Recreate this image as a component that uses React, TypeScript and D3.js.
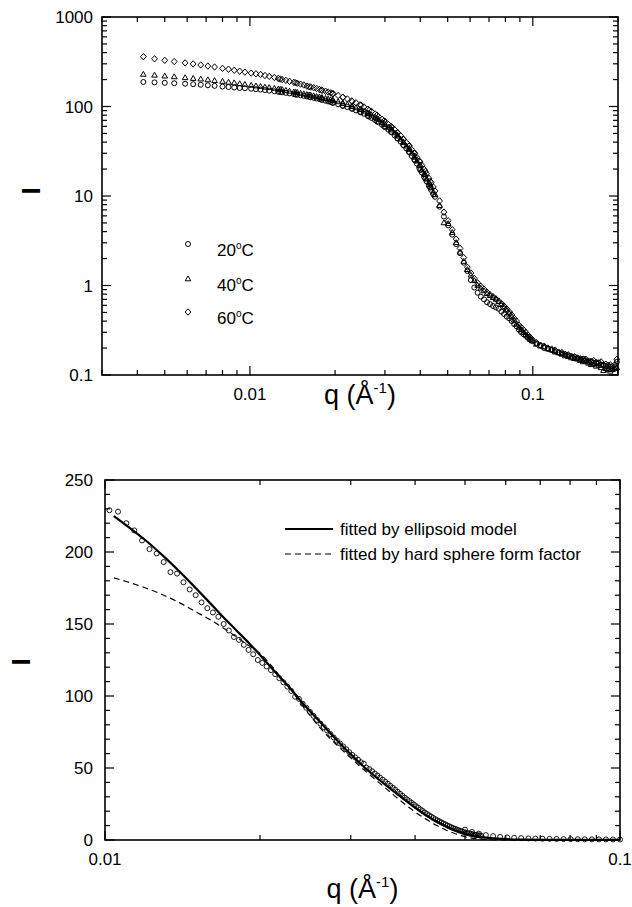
import React from "react";
import * as d3 from "d3";

const W = 632;
const H = 907;
const FONT = "'Liberation Sans', Arial, Helvetica, sans-serif";

// ---------- upper panel: scattering curves at three temperatures ----------
// low-q detector setting
const qLow = [
  0.0042, 0.0046, 0.005, 0.0054, 0.0059, 0.0063, 0.0067, 0.0071, 0.0075, 0.008,
  0.0084, 0.0088, 0.0092, 0.0096, 0.0101, 0.0105, 0.0109, 0.0113, 0.0117, 0.0122,
  0.0126, 0.013, 0.0134, 0.0138, 0.0143, 0.0147, 0.0151, 0.0155, 0.0159, 0.0164,
  0.0168, 0.0172, 0.0176, 0.018, 0.0185, 0.0189, 0.0193, 0.0197,
  0.0205, 0.0213, 0.0221, 0.0229, 0.0237, 0.0245, 0.0253, 0.0261, 0.0269, 0.0277,
  0.0285, 0.0293, 0.0301, 0.0309, 0.0317, 0.0325, 0.0333, 0.0341, 0.0349, 0.0357,
  0.0365, 0.0373, 0.0381, 0.0389, 0.0397, 0.0405, 0.0413, 0.0421, 0.0429, 0.0437,
  0.0445,
];
const I20Low = [
  188, 186, 184, 182, 179.5, 177.5, 175, 172.5, 170, 167,
  165, 163, 161, 160, 158, 156, 154.5, 152.5, 150.5, 148,
  146, 144, 142, 140, 137.5, 135.5, 133.5, 131.5, 129.5, 127,
  125, 123, 121, 119, 116, 114, 112, 110,
  106, 102, 98.5, 95, 90.5, 87, 83, 78.5, 74.5, 70.5,
  66.5, 62.5, 58.5, 55, 51.5, 47.5, 44, 40.5, 37, 34,
  31, 28, 25.5, 23, 20.5, 18.3, 16.3, 14.6, 13, 11.7,
  10.4,
];
const I40Low = [
  228, 223, 218, 214, 209, 205, 202, 198, 194, 190,
  186, 183, 179, 176, 172, 169, 167, 164, 162, 159,
  156, 154, 151, 148, 145, 143, 140, 138, 135.5, 133,
  131, 129, 127, 125, 122.5, 120.5, 118.5, 116.5,
  112.5, 108.5, 104.5, 100.5, 96.5, 92.5, 88.5, 84.5, 80, 75.5,
  71, 66.5, 62.5, 58.5, 54.5, 50.5, 46.5, 43, 39.5, 36,
  33, 30, 27, 24.5, 22, 19.5, 17.5, 15.5, 14, 12.5,
  11,
];
const I60Low = [
  360, 341, 328, 318, 307, 299, 291, 283, 276, 267,
  261, 254, 248, 242, 236, 232, 228, 222, 217, 211,
  206, 200, 196, 191, 186, 182, 178, 174, 169, 165,
  162, 159, 155, 152, 148, 145, 142, 139,
  132.5, 127, 121.5, 115.5, 110, 104.5, 99, 93.5, 88, 82.5,
  77, 72, 67.5, 63, 59, 55, 51, 47, 43, 39.5,
  36, 33, 30, 27, 24.5, 22, 19.8, 17.7, 15.8, 14.1,
  12.6,
];

// high-q detector setting
const qHigh = [
  0.0128, 0.0145, 0.0162, 0.0179, 0.0196, 0.0213, 0.023, 0.0247, 0.0264, 0.0281,
  0.0298, 0.0315, 0.0332, 0.0349, 0.0366, 0.0383, 0.04, 0.0417, 0.0434, 0.0451,
  0.0468, 0.0485, 0.0502, 0.0519, 0.0536, 0.0553, 0.057, 0.0587, 0.0604, 0.0621,
  0.0638, 0.0655, 0.0672, 0.0689, 0.0706, 0.0723, 0.074, 0.0757, 0.0774, 0.0791,
  0.0808, 0.0825, 0.0842, 0.0859, 0.0876, 0.0893, 0.091, 0.0927, 0.0944, 0.0961,
  0.0978, 0.0995,
  0.1029, 0.1063, 0.1097, 0.1131, 0.1165, 0.1199, 0.1233, 0.1267, 0.1301, 0.1335,
  0.1369, 0.1403, 0.1437, 0.1471, 0.1505, 0.1539, 0.1573, 0.1607, 0.1641, 0.1675,
  0.1709, 0.1743, 0.1777, 0.1811, 0.1845, 0.1879, 0.1913, 0.1947, 0.1981,
];
const I20High = [
  145, 136, 128, 119, 110, 102, 94, 86, 77, 68,
  60, 52, 44, 37, 31, 25, 19.5, 15.6, 12.4, 9.8,
  7.6, 5.9, 4.7, 3.7, 2.9, 2.3, 1.8, 1.45, 1.15, 0.95,
  0.83, 0.75, 0.7, 0.65, 0.62, 0.59, 0.57, 0.55, 0.51, 0.48,
  0.45, 0.43, 0.4, 0.37, 0.35, 0.32, 0.3, 0.285, 0.275, 0.26,
  0.25, 0.24,
  0.225, 0.215, 0.2, 0.196, 0.19, 0.185, 0.178, 0.174, 0.17, 0.165,
  0.16, 0.16, 0.155, 0.15, 0.152, 0.145, 0.14, 0.143, 0.137, 0.135,
  0.138, 0.13, 0.128, 0.126, 0.12, 0.124, 0.118, 0.122, 0.14,
];
const I40High = [
  155, 144, 134, 125, 117, 108, 100, 92, 83, 73,
  65, 57, 48, 40, 34, 28, 22, 17.2, 13.4, 10.3,
  7.8, 5.0, 4.9, 3.9, 3.0, 2.35, 1.85, 1.5, 1.3, 1.13,
  1.0, 0.93, 0.87, 0.81, 0.77, 0.73, 0.7, 0.66, 0.61, 0.57,
  0.53, 0.49, 0.45, 0.41, 0.37, 0.34, 0.32, 0.3, 0.28, 0.265,
  0.25, 0.24,
  0.22, 0.21, 0.205, 0.195, 0.19, 0.18, 0.176, 0.17, 0.163, 0.16,
  0.155, 0.152, 0.15, 0.145, 0.14, 0.142, 0.135, 0.13, 0.133, 0.125,
  0.128, 0.12, 0.112, 0.118, 0.115, 0.11, 0.115, 0.118, 0.12,
];
const I60High = [
  203, 184, 166, 153, 139, 127, 114, 103, 91, 80,
  69, 60, 51, 43, 36.5, 30, 24, 18.8, 14.6, 11.4,
  8.8, 6.6, 5.3, 4.2, 3.3, 2.6, 2.05, 1.6, 1.38, 1.2,
  1.07, 0.98, 0.91, 0.84, 0.79, 0.75, 0.71, 0.67, 0.63, 0.59,
  0.55, 0.51, 0.47, 0.43, 0.4, 0.36, 0.34, 0.32, 0.3, 0.28,
  0.265, 0.25,
  0.23, 0.215, 0.21, 0.2, 0.195, 0.19, 0.18, 0.178, 0.17, 0.168,
  0.162, 0.16, 0.155, 0.152, 0.148, 0.15, 0.143, 0.14, 0.145, 0.138,
  0.135, 0.14, 0.13, 0.132, 0.128, 0.13, 0.125, 0.13, 0.15,
];

const temperatures = ["20", "40", "60"];
const topYTicks = [0.1, 1, 10, 100, 1000];
const topYTickLabels = ["0.1", "1", "10", "100", "1000"];
const topXTicks = [0.01, 0.1];
const topXTickLabels = ["0.01", "0.1"];

// ---------- lower panel: one curve with two model fits ----------
const qB = [
  0.0102, 0.0106, 0.011, 0.0114, 0.0118, 0.0122, 0.0126, 0.013, 0.0134, 0.0138,
  0.0142, 0.0146, 0.015, 0.0154, 0.0158, 0.0162, 0.0166, 0.017, 0.0174, 0.0178,
  0.0182, 0.0186, 0.019, 0.0194, 0.0198,
  0.0202, 0.0206, 0.021, 0.0214, 0.0218, 0.0222, 0.0226, 0.023, 0.0234, 0.0238,
  0.0242, 0.0246, 0.025, 0.0254, 0.0258, 0.0262, 0.0266, 0.027, 0.0274, 0.0278,
  0.0282, 0.0286, 0.029, 0.0294, 0.0298, 0.0302, 0.0306, 0.031, 0.0314, 0.0318,
  0.0322, 0.0326, 0.033, 0.0334, 0.0338, 0.0342, 0.0346, 0.035, 0.0354, 0.0358,
  0.0362, 0.0366, 0.037, 0.0374, 0.0378, 0.0382, 0.0386, 0.039, 0.0394, 0.0398,
  0.0402, 0.0406, 0.041, 0.0414, 0.0418, 0.0422, 0.0426, 0.043, 0.0434, 0.0438,
  0.0442, 0.0446, 0.045, 0.0454, 0.0458, 0.0462, 0.0466, 0.047, 0.0474, 0.0478,
  0.0482, 0.0486, 0.049, 0.0494, 0.0498, 0.0502, 0.0506, 0.051, 0.0514, 0.0518,
  0.0522, 0.0526, 0.053, 0.0534, 0.0538,
];
const IB = [
  229, 228, 220, 215, 208, 202, 199, 193, 186, 185,
  179, 174, 170, 165, 161, 158, 155, 150, 145.5, 141,
  139, 135.5, 132, 129, 125,
  123, 120.5, 118, 115.2, 112.4, 109.5, 106.5, 103.5, 99.5, 98,
  94.6, 91.8, 89, 86.2, 83.4, 80.8, 78.4, 76, 73.6, 71.2,
  69, 67, 65, 63, 61, 59.1, 57.4, 55.7, 54, 53,
  50.2, 49.2, 47.8, 46.2, 44.8, 43.3, 41.9, 40.5, 39.1, 37.7,
  36.3, 34.9, 33.5, 32.1, 30.7, 29.4, 28.2, 27, 25.8, 24.6,
  23.4, 22.3, 21.2, 20.1, 19, 18, 17.1, 16.2, 15.3, 14.4,
  13.6, 12.9, 12.2, 11.5, 10.8, 10.1, 9.5, 8.9, 8.3, 7.8,
  7.3, 6.8, 6.3, 5.9, 5.4, 5.1, 4.8, 4.5, 4.2, 4,
  3.7, 3.5, 3.3, 3.1, 2.9,
];
const qBHigh = [
  0.05, 0.0516, 0.0532, 0.0549, 0.0567, 0.0585, 0.0604, 0.0623, 0.0643, 0.0664,
  0.0685, 0.0707, 0.073, 0.0753, 0.0777, 0.0802, 0.0828, 0.0854, 0.0882, 0.091,
  0.0939, 0.0969, 0.1,
];
const IBHigh = [
  7.2, 5.6, 4.4, 3.4, 2.7, 2.2, 1.8, 1.5, 1.3, 1.1,
  1.0, 0.9, 0.8, 0.72, 0.65, 0.6, 0.55, 0.5, 0.46, 0.43,
  0.4, 0.38, 0.36,
];
const qFit = [
  0.0104, 0.011, 0.012, 0.013, 0.014, 0.015, 0.016, 0.017, 0.018, 0.019,
  0.02, 0.021, 0.022, 0.023, 0.024, 0.025, 0.026, 0.028, 0.03, 0.032,
  0.034, 0.036, 0.038, 0.04, 0.042, 0.044, 0.046, 0.048, 0.05, 0.053,
  0.056, 0.06, 0.065, 0.07, 0.08, 0.09, 0.1,
];
const ellipsoidFit = [
  225, 218.5, 208, 197, 186, 175, 164.5, 154.5, 145.5, 137,
  128.5, 120, 112, 104.5, 96.5, 89.5, 83, 70.5, 59.5, 50,
  42, 35, 28.5, 22.5, 17.3, 13, 9.4, 6.6, 4.5, 2.4,
  1.3, 0.6, 0.25, 0.15, 0.1, 0.1, 0.1,
];
const hardSphereFit = [
  182, 179.5, 175, 170, 164.5, 158.5, 153, 147, 141, 135,
  129.5, 121.5, 112.5, 104, 95, 86.5, 79, 67, 57, 48,
  40, 32.5, 25.5, 19.5, 14.5, 10.2, 6.8, 4.2, 2.3, 0.8,
  0.2, 0.1, 0.1, 0.1, 0.1, 0.1, 0.1,
];
const fitLabels = ["fitted by ellipsoid model", "fitted by hard sphere form factor"];
const botYTicks = [0, 50, 100, 150, 200, 250];
const botYTickLabels = ["0", "50", "100", "150", "200", "250"];
const botXTicks = [0.01, 0.1];
const botXTickLabels = ["0.01", "0.1"];

// ---------- geometry ----------
const topX = d3.scaleLog().domain([0.003, 0.2]).range([102, 618]);
const topY = d3.scaleLog().domain([0.1, 1000]).range([375, 17]);
const botX = d3.scaleLog().domain([0.01, 0.1]).range([105, 620]);
const botY = d3.scaleLinear().domain([0, 250]).range([840, 480]);

type Shape = "circle" | "triangle" | "diamond";

function markerPath(shape: Shape, x: number, y: number, r = 2.5): string {
  if (shape === "circle") {
    return `M${x - r},${y}a${r},${r} 0 1,0 ${2 * r},0a${r},${r} 0 1,0 ${-2 * r},0`;
  }
  if (shape === "triangle") {
    return `M${x},${y - 3.1}L${x + 2.8},${y + 1.8}L${x - 2.8},${y + 1.8}Z`;
  }
  return `M${x},${y - 3.2}L${x + 2.9},${y}L${x},${y + 3.2}L${x - 2.9},${y}Z`;
}

function seriesPath(
  shape: Shape,
  qs: number[],
  vals: number[],
  sx: (v: number) => number,
  sy: (v: number) => number,
  r?: number
): string {
  return qs.map((q, i) => markerPath(shape, sx(q), sy(vals[i]), r)).join("");
}

const isDecade = (v: number) =>
  Math.abs(Math.log10(v) - Math.round(Math.log10(v))) < 1e-6;

type Tick = { pos: number; major: boolean };

function Frame({
  x0, x1, y0, y1, xTicks, yTicks,
}: { x0: number; x1: number; y0: number; y1: number; xTicks: Tick[]; yTicks: Tick[] }) {
  const MAJ = 9;
  const MIN = 5;
  const lines: JSX.Element[] = [];
  xTicks.forEach((t, i) => {
    const len = t.major ? MAJ : MIN;
    lines.push(<line key={`xb${i}`} x1={t.pos} x2={t.pos} y1={y1} y2={y1 - len} />);
    lines.push(<line key={`xt${i}`} x1={t.pos} x2={t.pos} y1={y0} y2={y0 + len} />);
  });
  yTicks.forEach((t, i) => {
    const len = t.major ? MAJ : MIN;
    lines.push(<line key={`yl${i}`} x1={x0} x2={x0 + len} y1={t.pos} y2={t.pos} />);
    lines.push(<line key={`yr${i}`} x1={x1} x2={x1 - len} y1={t.pos} y2={t.pos} />);
  });
  return (
    <g stroke="#000" fill="none">
      <g strokeWidth={1.2}>{lines}</g>
      <rect x={x0} y={y0} width={x1 - x0} height={y1 - y0} strokeWidth={1.6} />
    </g>
  );
}

function QLabel({ x, y }: { x: number; y: number }) {
  return (
    <text x={x} y={y} textAnchor="middle" fontSize={27} fontFamily={FONT}>
      q (Å
      <tspan dy={-11} fontSize={15}>-1</tspan>
      <tspan dy={11}>)</tspan>
    </text>
  );
}

export default function App() {
  const [tx0, tx1] = topX.range();
  const [ty1, ty0] = topY.range();
  const topXT: Tick[] = topX.ticks().map((t) => ({ pos: topX(t), major: isDecade(t) }));
  const topYT: Tick[] = topY.ticks().map((t) => ({ pos: topY(t), major: isDecade(t) }));

  const [bx0, bx1] = botX.range();
  const [by1, by0] = botY.range();
  const botXT: Tick[] = botX.ticks().map((t) => ({ pos: botX(t), major: isDecade(t) }));
  const botYT: Tick[] = botY.ticks(25).map((t) => ({ pos: botY(t), major: t % 50 === 0 }));

  const series: { shape: Shape; low: number[]; high: number[] }[] = [
    { shape: "circle", low: I20Low, high: I20High },
    { shape: "triangle", low: I40Low, high: I40High },
    { shape: "diamond", low: I60Low, high: I60High },
  ];

  const fitLine = d3
    .line<number>()
    .x((_, i) => botX(qFit[i]))
    .curve(d3.curveMonotoneX);

  const legendRows = [244, 279, 312];

  return (
    <svg
      width={W}
      height={H}
      viewBox={`0 0 ${W} ${H}`}
      style={{ position: "absolute", left: 0, top: 0, background: "#fff" }}
      fontFamily={FONT}
    >
      <rect width={W} height={H} fill="#fff" />

      {/* ===== upper panel ===== */}
      <g>
        {series.map((s) => (
          <g key={s.shape} fill="none" stroke="#000" strokeWidth={1}>
            <path d={seriesPath(s.shape, qLow, s.low, topX, topY)} />
            <path d={seriesPath(s.shape, qHigh, s.high, topX, topY)} />
          </g>
        ))}
        <Frame x0={tx0} x1={tx1} y0={ty0} y1={ty1} xTicks={topXT} yTicks={topYT} />
        {topYTicks.map((t, i) => (
          <text key={t} x={tx0 - 9} y={topY(t)} dy="0.36em" textAnchor="end" fontSize={17}>
            {topYTickLabels[i]}
          </text>
        ))}
        {topXTicks.map((t, i) => (
          <text key={t} x={topX(t)} y={400} textAnchor="middle" fontSize={17}>
            {topXTickLabels[i]}
          </text>
        ))}
        <QLabel x={(tx0 + tx1) / 2} y={404} />
        <text transform={`translate(40,${(ty0 + ty1) / 2 - 5}) rotate(-90)`} textAnchor="middle"
          fontSize={26} fontWeight="bold">I</text>

        {/* legend */}
        {series.map((s, i) => (
          <g key={`lg${i}`}>
            <path d={markerPath(s.shape, 188, legendRows[i])} fill="none" stroke="#000" strokeWidth={1} />
            <text x={217} y={legendRows[i] + 12} fontSize={17}>
              {temperatures[i]}
              <tspan dy={-7} fontSize={10}>o</tspan>
              <tspan dy={7}>C</tspan>
            </text>
          </g>
        ))}
      </g>

      {/* ===== lower panel ===== */}
      <g>
        <path
          d={seriesPath("circle", qB, IB, botX, botY, 2.5) + seriesPath("circle", qBHigh, IBHigh, botX, botY, 2.5)}
          fill="none" stroke="#000" strokeWidth={0.9}
        />
        <path d={fitLine.y((v) => botY(v))(ellipsoidFit) || ""} fill="none" stroke="#000" strokeWidth={2.2} />
        <path d={fitLine.y((v) => botY(v))(hardSphereFit) || ""} fill="none" stroke="#000"
          strokeWidth={1.2} strokeDasharray="6,4" />
        <Frame x0={bx0} x1={bx1} y0={by0} y1={by1} xTicks={botXT} yTicks={botYT} />
        {botYTicks.map((t, i) => (
          <text key={t} x={bx0 - 12} y={botY(t)} dy="0.36em" textAnchor="end" fontSize={17}>
            {botYTickLabels[i]}
          </text>
        ))}
        {botXTicks.map((t, i) => (
          <text key={t} x={botX(t)} y={865} textAnchor="middle" fontSize={17}>
            {botXTickLabels[i]}
          </text>
        ))}
        <QLabel x={(bx0 + bx1) / 2} y={898} />
        <text transform={`translate(30,${(by0 + by1) / 2 + 2}) rotate(-90)`} textAnchor="middle"
          fontSize={26} fontWeight="bold">I</text>

        {/* legend */}
        <line x1={285} x2={333} y1={529} y2={529} stroke="#000" strokeWidth={2.2} />
        <text x={340} y={535} fontSize={17}>{fitLabels[0]}</text>
        <line x1={285} x2={333} y1={554} y2={554} stroke="#000" strokeWidth={1.2} strokeDasharray="6,4" />
        <text x={340} y={560} fontSize={17}>{fitLabels[1]}</text>
      </g>
    </svg>
  );
}
